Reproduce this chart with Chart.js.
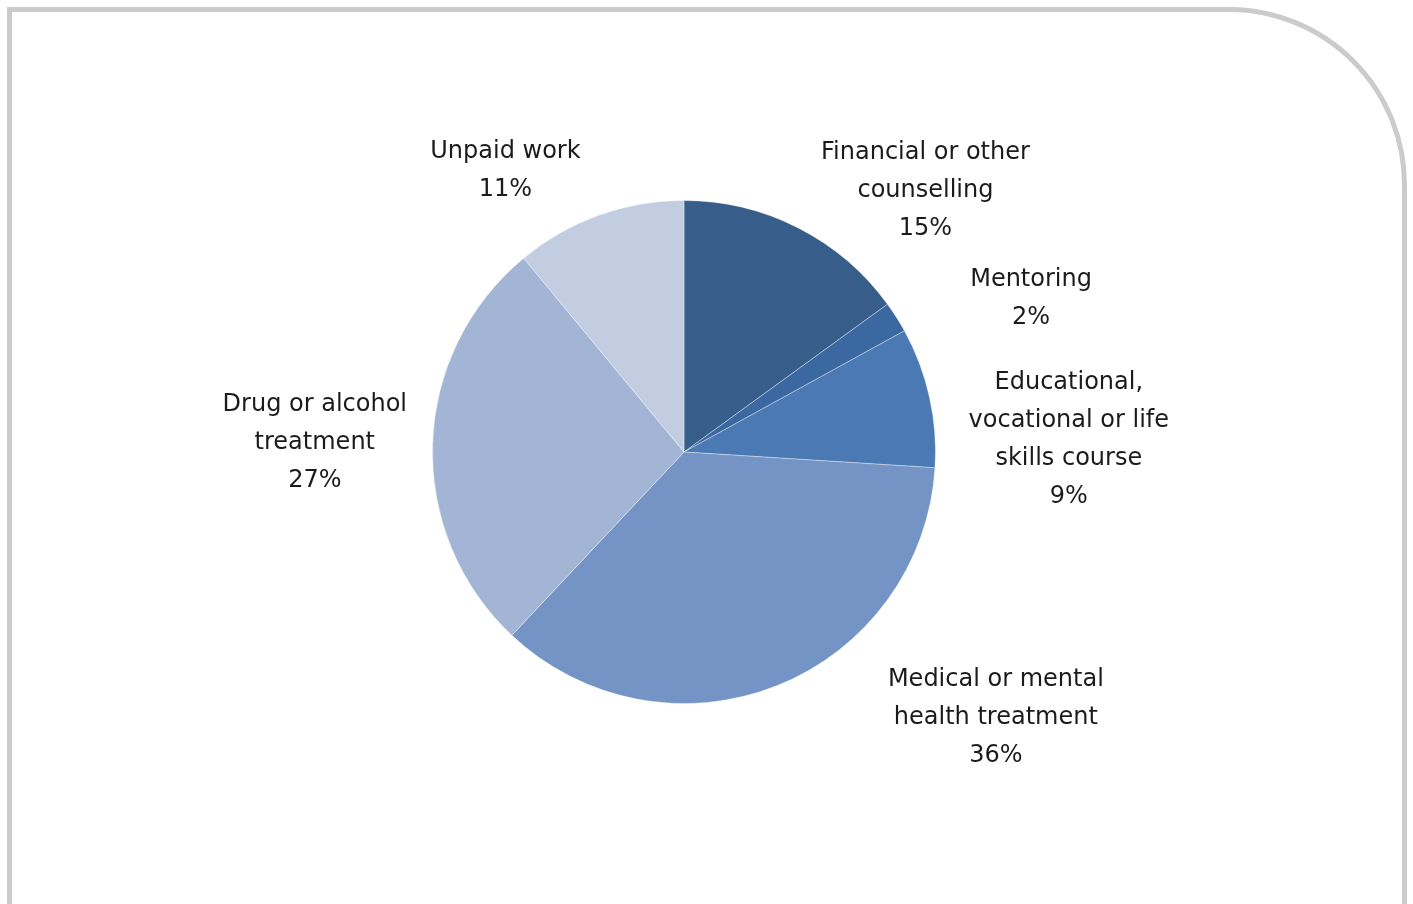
<!DOCTYPE html>
<html>
<head>
<meta charset="utf-8">
<script src="https://cdn.jsdelivr.net/npm/chart.js@4"></script>
<style>
    html, body {
        margin: 0;
        padding: 0;
        background: #ffffff;
        overflow: hidden;
    }
    .frame {
        position: absolute;
        left: 7px;
        top: 7px;
        width: 1390px;
        height: 1000px;
        border: 5px solid #cbcbcb;
        border-top-right-radius: 178px;
    }
    #chart {
        position: absolute;
        left: 0;
        top: 0;
    }
</style>
</head>
<body>
<div class="frame"></div>
<canvas id="chart" width="1413" height="904"></canvas>
<script>
const categories = [
    ["Financial or other", "counselling"],
    ["Mentoring"],
    ["Educational,", "vocational or life", "skills course"],
    ["Medical or mental", "health treatment"],
    ["Drug or alcohol", "treatment"],
    ["Unpaid work"],
];
const shares = [15, 2, 9, 36, 27, 11];
const sliceColors = ["#375d8b", "#3c68a1", "#4a79b4", "#7394c5", "#a3b5d5", "#c3cde2"];

// where each label block sits, as (dx, dy) of its centre in pie radii from the pie centre
const labelPlacement = [
    [0.96, -1.04],
    [1.38, -0.611],
    [1.53, -0.048],
    [1.24, 1.056],
    [-1.468, -0.038],
    [-0.71, -1.117],
];

const lineHeight = 38;

const sliceLabels = {
    id: "sliceLabels",
    afterDatasetsDraw(chart) {
        const ctx = chart.ctx;
        const meta = chart.getDatasetMeta(0);
        ctx.save();
        ctx.font = "24px 'DejaVu Sans'";
        ctx.fillStyle = "#1b1b1b";
        ctx.textAlign = "center";
        ctx.textBaseline = "middle";
        meta.data.forEach((arc, i) => {
            const r = arc.outerRadius;
            const cx = arc.x + labelPlacement[i][0] * r;
            const cy = arc.y + labelPlacement[i][1] * r;
            const lines = categories[i].concat([shares[i] + "%"]);
            const top = cy - (lines.length - 1) * lineHeight / 2;
            lines.forEach((line, j) => {
                ctx.fillText(line, cx, top + j * lineHeight);
            });
        });
        ctx.restore();
    }
};

new Chart(document.getElementById("chart"), {
    type: "pie",
    data: {
        labels: categories.map(c => c.join(" ")),
        datasets: [{
            data: shares,
            backgroundColor: sliceColors,
            borderColor: "rgba(255,255,255,0.35)",
            borderWidth: 1,
        }],
    },
    options: {
        responsive: false,
        animation: false,
        layout: {
            padding: {left: 432, right: 477, top: 200, bottom: 200},
        },
        plugins: {
            legend: {display: false},
            tooltip: {enabled: false},
        },
    },
    plugins: [sliceLabels],
});
</script>
</body>
</html>
